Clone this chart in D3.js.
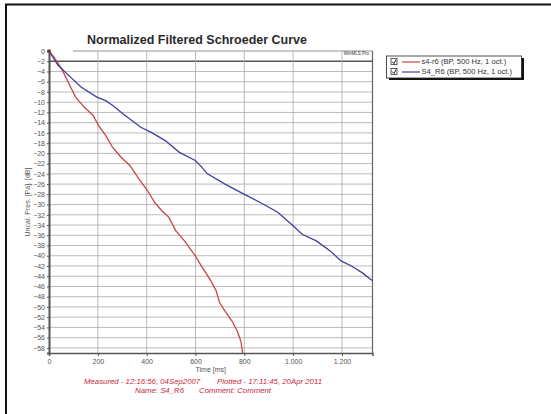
<!DOCTYPE html>
<html>
<head>
<meta charset="utf-8">
<script src="https://cdn.jsdelivr.net/npm/d3@7"></script>
<style>
  body { margin: 0; background: #fff; }
  svg { display: block; font-family: "Liberation Sans", Arial, sans-serif; }
  .axis path, .axis line { stroke: #555; }
  .axis text { fill: #555; font-size: 7px; }
</style>
</head>
<body>
<div id="chart"></div>
<script>
// series
const redName = "s4-r6 (BP, 500 Hz, 1 oct.)";
const redTime = [0, 20, 52, 88, 109, 145, 181, 203, 232, 260, 296, 332, 368, 404, 433, 462, 491, 519, 555, 599, 620, 663, 685, 699, 721, 750, 771, 786, 793];
const redDb = [0, -1.2, -3.5, -7.0, -9.0, -11.0, -12.6, -14.6, -16.5, -18.8, -20.8, -22.4, -25.0, -27.3, -29.6, -31.2, -32.5, -35.1, -37.1, -40.0, -41.7, -44.9, -46.9, -49.2, -50.8, -52.8, -54.7, -56.7, -59.0];

const blueName = "S4_R6 (BP, 500 Hz, 1 oct.)";
const blueTime = [0, 37, 88, 131, 196, 232, 260, 304, 376, 419, 476, 534, 599, 620, 649, 721, 800, 865, 937, 1001, 1037, 1095, 1153, 1196, 1239, 1282, 1325];
const blueDb = [0, -2.8, -5.1, -7.05, -9.0, -9.7, -10.6, -12.3, -14.9, -15.9, -17.5, -19.8, -21.4, -22.4, -24.0, -26.0, -28.0, -29.6, -31.5, -34.2, -35.8, -37.1, -39.1, -41.0, -42.0, -43.3, -44.9];

const xTicks = [0, 200, 400, 600, 800, 1000, 1200];
const yTicks = d3.range(0, -59, -2);

const W = 551, H = 414;
const svg = d3.select("#chart").append("svg").attr("width", W).attr("height", H);

// outer frame (left and top only visible)
svg.append("line").attr("x1", 6).attr("x2", 6).attr("y1", 4).attr("y2", H).attr("stroke", "#111").attr("stroke-width", 2);
svg.append("line").attr("x1", 5).attr("x2", W).attr("y1", 4.5).attr("y2", 4.5).attr("stroke", "#111").attr("stroke-width", 2);

const x = d3.scaleLinear().domain([0, 1325]).range([49, 372.5]);
const y = d3.scaleLinear().domain([-59, 0]).range([353, 51]);

const loc = d3.formatLocale({ decimal: ",", thousands: ".", grouping: [3], currency: ["", ""] });
const fmt = loc.format(",d");

// grid
const grid = svg.append("g");
grid.selectAll("line.h").data(yTicks).enter().append("line")
  .attr("x1", d => d === 0 ? 73 : x(0)).attr("x2", x(1325))
  .attr("y1", d => y(d)).attr("y2", d => y(d))
  .attr("stroke", d => d === -2 ? "#555" : d === 0 ? "#777" : "#aaa")
  .attr("stroke-width", d => d === -2 ? 1.4 : 0.8);
grid.selectAll("line.v").data(xTicks.slice(1)).enter().append("line")
  .attr("x1", d => x(d)).attr("x2", d => x(d))
  .attr("y1", y(0)).attr("y2", y(-59))
  .attr("stroke", "#aaa").attr("stroke-width", 0.8);

// plot frame
svg.append("line").attr("x1", x(1325)).attr("x2", x(1325)).attr("y1", y(0)).attr("y2", y(-59)).attr("stroke", "#666").attr("stroke-width", 1.2);

// axes
const xAxis = svg.append("g").attr("class", "axis").attr("transform", `translate(0,${y(-59)})`)
  .call(d3.axisBottom(x).tickValues(xTicks).tickSize(3).tickPadding(3).tickFormat(fmt));
xAxis.select(".domain").attr("stroke-width", 1.5).attr("stroke", "#555");

const yAxis = svg.append("g").attr("class", "axis").attr("transform", `translate(${x(0)},0)`)
  .call(d3.axisLeft(y).tickValues(yTicks).tickSize(2).tickPadding(2).tickFormat(d3.format("d")));
yAxis.select(".domain").attr("stroke-width", 2).attr("stroke", "#555");

// series
const line = d3.line().x(d => x(d[0])).y(d => y(d[1]));
const series = [
  { name: redName, color: "#cc4444", pts: d3.zip(redTime, redDb) },
  { name: blueName, color: "#3f3f9f", pts: d3.zip(blueTime, blueDb) }
];
svg.selectAll("path.curve").data(series).enter().append("path")
  .attr("class", "curve")
  .attr("d", d => line(d.pts))
  .attr("fill", "none")
  .attr("stroke", d => d.color)
  .attr("stroke-width", 1.3);

svg.append("rect").attr("x", x(0) - 1.5).attr("y", y(0) - 1.5).attr("width", 3).attr("height", 3).attr("fill", "#6b3030");

// texts
svg.append("text").attr("x", 87).attr("y", 44)
  .attr("font-size", 13.5).attr("font-weight", "bold").attr("fill", "#2a2a2a")
  .attr("textLength", 220).attr("lengthAdjust", "spacingAndGlyphs")
  .text("Normalized Filtered Schroeder Curve");

svg.append("text").attr("x", 369).attr("y", 55).attr("text-anchor", "end")
  .attr("font-size", 4.5).attr("fill", "#333").text("WinMLS Pro");

svg.append("text").attr("transform", `translate(30,${(y(0) + y(-59)) / 2}) rotate(-90)`)
  .attr("text-anchor", "middle").attr("font-size", 7).attr("fill", "#555")
  .text("Uncal. Pres. [Pa], [dB]");

svg.append("text").attr("x", (x(0) + x(1325)) / 2).attr("y", 372).attr("text-anchor", "middle")
  .attr("font-size", 7).attr("fill", "#555").text("Time [ms]");

const foot = svg.append("g").attr("fill", "#c8283c").attr("font-size", 7.8).attr("font-style", "italic");
foot.append("text").attr("x", 84).attr("y", 384).text("Measured - 12:16:56, 04Sep2007");
foot.append("text").attr("x", 322).attr("y", 384).attr("text-anchor", "end").text("Plotted - 17:11:45, 20Apr 2011");
foot.append("text").attr("x", 135).attr("y", 393).text("Name: S4_R6");
foot.append("text").attr("x", 271).attr("y", 393).attr("text-anchor", "end").text("Comment: Comment");

// legend
const lg = svg.append("g");
lg.append("rect").attr("x", 389).attr("y", 58).attr("width", 135).attr("height", 22).attr("fill", "#111");
lg.append("rect").attr("x", 386.5).attr("y", 56).attr("width", 135).attr("height", 22).attr("fill", "#fff").attr("stroke", "#222").attr("stroke-width", 0.8);
const rows = lg.selectAll("g.row").data(series).enter().append("g")
  .attr("transform", (d, i) => `translate(0,${61.5 + i * 10})`);
rows.append("rect").attr("x", 391).attr("y", -3).attr("width", 6).attr("height", 6)
  .attr("fill", "#fff").attr("stroke", "#333").attr("stroke-width", 0.8);
rows.append("path").attr("d", "M392,0 L394,2 L396,-2").attr("fill", "none").attr("stroke", "#222").attr("stroke-width", 1);
rows.append("line").attr("x1", 402).attr("x2", 420).attr("y1", 0.5).attr("y2", 0.5)
  .attr("stroke", d => d.color).attr("stroke-width", 1.2);
rows.append("text").attr("x", 421.5).attr("y", 2.5).attr("font-size", 7.6).attr("fill", "#333").text(d => d.name);
</script>
</body>
</html>
